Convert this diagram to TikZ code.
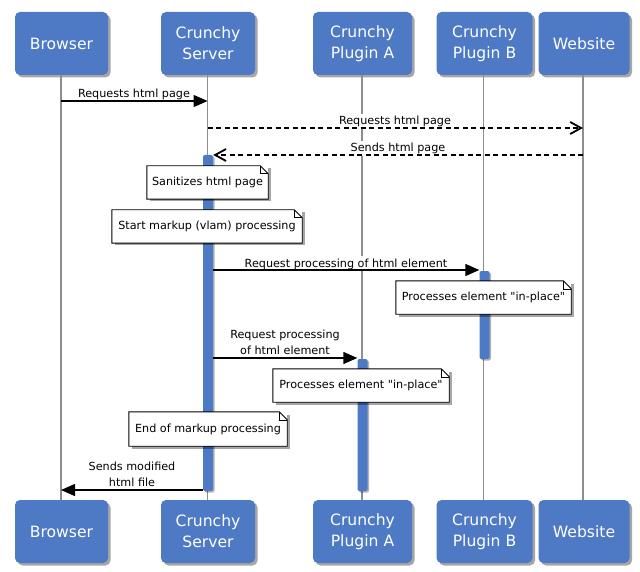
\documentclass[tikz,border=0pt]{standalone}
\usepackage{fontspec}
\setmainfont{DejaVu Sans}[Ligatures=TeXOff]
\usetikzlibrary{arrows.meta,shadows}
\definecolor{boxblue}{HTML}{4E79C4}
\definecolor{lifegray}{HTML}{8E8E8E}
\begin{document}
\begin{tikzpicture}[x=1pt,y=-1pt,
  actor/.style={draw=none, fill=boxblue, rounded corners=5pt, text=white,
    font=\fontsize{15.6}{21}\selectfont, align=center, minimum height=63pt,
    inner sep=0pt, drop shadow={shadow xshift=2.5pt, shadow yshift=-2.5pt, fill=black, opacity=0.35}},
  life/.style={draw=lifegray, line width=1.5pt},
  actbar/.style={fill=boxblue, draw=none, rounded corners=2pt, minimum width=10pt, inner sep=0pt,
    drop shadow={shadow xshift=1.5pt, shadow yshift=-1.5pt, fill=black, opacity=0.3}},
  lbl/.style={font=\fontsize{11.2}{16}\selectfont, fill=white, inner xsep=1pt, inner ysep=2pt, align=center},
  note/.style={fill=white, draw=none, font=\fontsize{11.2}{16}\selectfont, minimum height=33pt, inner sep=0pt,
    drop shadow={shadow xshift=2.5pt, shadow yshift=-2.5pt, fill=black, opacity=0.35}},
  noteline/.style={draw=black, line width=0.9pt},
  sync/.style={line width=1.4pt, -{Triangle[length=14pt,width=12pt]}},
  reply/.style={line width=1.4pt, dash pattern=on 5pt off 3.5pt, -{Straight Barb[length=11pt,width=12pt,line width=1.8pt]}}
]
\useasboundingbox (0,0) rectangle (640,572);

% header boxes
\node[actor, minimum width=93pt] (browserT) at (61.5,43.5) {Browser};
\node[actor, minimum width=94pt] (serverT) at (208,43.5) {Crunchy\\Server};
\node[actor, minimum width=99pt] (pluginAT) at (362.5,43.5) {Crunchy\\Plugin A};
\node[actor, minimum width=96pt] (pluginBT) at (484.5,43.5) {Crunchy\\Plugin B};
\node[actor, minimum width=91pt] (websiteT) at (584,43.5) {Website};

\node[actor, minimum width=93pt] (browserB) at (61.5,531.5) {Browser};
\node[actor, minimum width=94pt] (serverB) at (208,531.5) {Crunchy\\Server};
\node[actor, minimum width=99pt] (pluginAB) at (362.5,531.5) {Crunchy\\Plugin A};
\node[actor, minimum width=96pt] (pluginBB) at (484.5,531.5) {Crunchy\\Plugin B};
\node[actor, minimum width=91pt] (websiteB) at (584,531.5) {Website};

% lifelines
\draw[life] (browserT.south -| 61,0) -- (browserB.north -| 61,0);
\draw[life] (serverT.south -| 207.5,0) -- (serverB.north -| 207.5,0);
\draw[life] (pluginAT.south -| 362,0) -- (pluginAB.north -| 362,0);
\draw[life] (pluginBT.south -| 483.5,0) -- (pluginBB.north -| 483.5,0);
\draw[life] (websiteT.south -| 583,0) -- (websiteB.north -| 583,0);

% activation bars
\node[actbar, minimum height=336pt] (actS) at (208,323) {};
\node[actbar, minimum height=88pt] (actB) at (484.5,315) {};
\node[actbar, minimum height=132pt] (actA) at (362.5,425) {};

% message end points
\coordinate (m1a) at (61,101);   \coordinate (m1b) at (207.5,101);
\coordinate (m2a) at (207.5,128); \coordinate (m2b) at (583,128);
\coordinate (m3a) at (583,155);   \coordinate (m3b) at (actS.east |- 0,155);
\coordinate (m4a) at (actS.east |- 0,270); \coordinate (m4b) at (actB.west |- 0,270);
\coordinate (m5a) at (actS.east |- 0,358); \coordinate (m5b) at (actA.west |- 0,358);
\coordinate (m6a) at (actS.west |- 0,490); \coordinate (m6b) at (61,490);

% labels
\node[lbl, anchor=base] (l1) at (134,98) {Requests html page};
\node[lbl, anchor=base] (l2) at (395,125) {Requests html page};
\node[lbl, anchor=base] (l3) at (398,152) {Sends html page};
\node[lbl, anchor=base] (l4) at (346,267) {Request processing of html element};
\node[lbl, anchor=south] (l5) at (285,357) {Request processing\\of html element};
\node[lbl, anchor=south] (l6) at (132,489) {Sends modified\\html file};

% messages
\draw[sync] (m1a) -- (m1b);
\draw[reply] (m2a) -- (m2b);
\draw[reply] (m3a) -- (m3b);
\draw[sync] (m4a) -- (m4b);
\draw[sync] (m5a) -- (m5b);
\draw[sync] (m6a) -- (m6b);

% notes
\node[note, minimum width=121pt] (n1) at (207.5,182.5) {Sanitizes html page};
\node[note, minimum width=190pt] (n2) at (207,226.5) {Start markup (vlam) processing};
\node[note, minimum width=175pt] (n3) at (483.5,297.5) {Processes element "in-place"};
\node[note, minimum width=176pt] (n4) at (361,385.5) {Processes element "in-place"};
\node[note, minimum width=158pt, minimum height=34pt] (n5) at (208,429) {End of markup processing};
\foreach \n in {n1,n2,n3,n4,n5}{
  \draw[noteline] (\n.south west) -- (\n.north west) -- ([xshift=-8pt]\n.north east)
     -- ([yshift=-8pt]\n.north east) -- (\n.south east) -- cycle;
  \draw[noteline, line width=0.6pt] ([xshift=-8pt]\n.north east) |- ([yshift=-8pt]\n.north east);
}
\end{tikzpicture}
\end{document}
